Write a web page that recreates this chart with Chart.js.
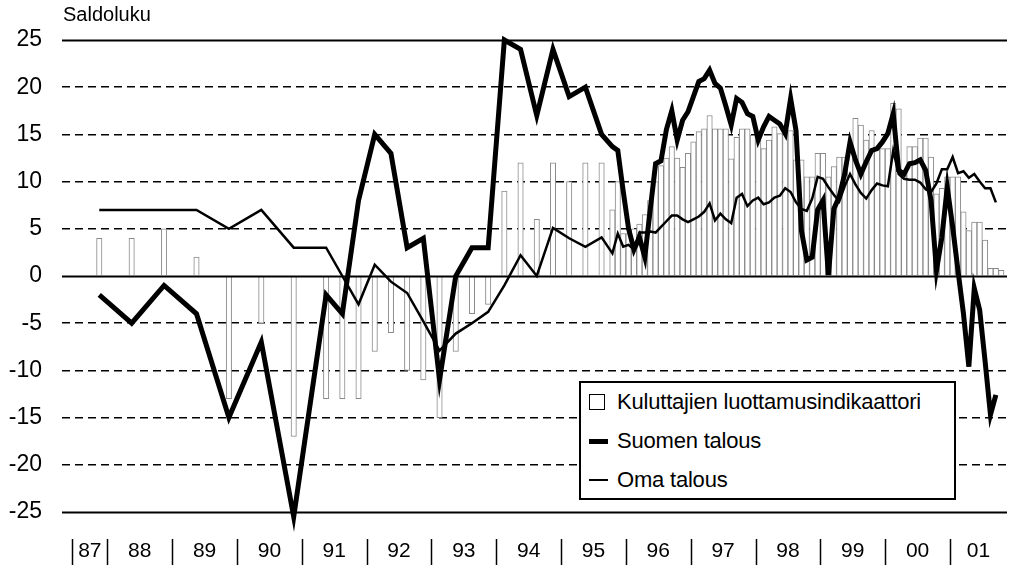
<!DOCTYPE html>
<html>
<head>
<meta charset="utf-8">
<script src="https://cdn.jsdelivr.net/npm/chart.js@4.4.0/dist/chart.umd.min.js"></script>
<style>
html, body { margin: 0; padding: 0; background: #fff; }
#wrap { position: relative; width: 1009px; height: 569px; }
#kuvio { position: absolute; left: 0; top: 0; }
#otsikko { position: absolute; left: 63px; top: 3px; font: 20px "Liberation Sans", Arial, sans-serif; color: #000; }
#selite { position: absolute; left: 579px; top: 381px; width: 373px; height: 115px; border: 2px solid #000; background: #fff;
          font: 22px "Liberation Sans", Arial, sans-serif; color: #000; }
#selite .rivi { position: absolute; left: 0; height: 30px; line-height: 30px; white-space: nowrap; }
#selite .merkki { position: absolute; left: 8px; }
#selite .teksti { position: absolute; left: 36px; top: 0; letter-spacing: -0.2px; }
</style>
</head>
<body>
<div id="wrap">
  <canvas id="kuvio" width="1009" height="569"></canvas>
  <div id="otsikko">Saldoluku</div>
  <div id="selite">
    <div class="rivi" style="top:4px"><div class="merkki" style="top:7px;width:14px;height:14px;border:1px solid #000;"></div><span class="teksti">Kuluttajien luottamusindikaattori</span></div>
    <div class="rivi" style="top:43px"><div class="merkki" style="top:13px;width:19px;height:5px;background:#000;"></div><span class="teksti">Suomen talous</span></div>
    <div class="rivi" style="top:82px"><div class="merkki" style="top:14px;width:19px;height:2px;background:#000;"></div><span class="teksti">Oma talous</span></div>
  </div>
</div>
<script>
// havaintokuukaudet (1987-1995 puolivuosittain/neljännesvuosittain, sen jälkeen kuukausittain)
var pvm = [
  '1987-11','1988-05','1988-11','1989-05','1989-11','1990-05','1990-11',
  '1991-05','1991-08','1991-11','1992-02','1992-05','1992-08','1992-11',
  '1993-02','1993-05','1993-08','1993-11','1994-02','1994-05','1994-08','1994-11',
  '1995-02','1995-05','1995-08','1995-10','1995-11','1995-12',
  '1996-01','1996-02','1996-03','1996-04','1996-05','1996-06','1996-07','1996-08','1996-09','1996-10','1996-11','1996-12',
  '1997-01','1997-02','1997-03','1997-04','1997-05','1997-06','1997-07','1997-08','1997-09','1997-10','1997-11','1997-12',
  '1998-01','1998-02','1998-03','1998-04','1998-05','1998-06','1998-07','1998-08','1998-09','1998-10','1998-11','1998-12',
  '1999-01','1999-02','1999-03','1999-04','1999-05','1999-06','1999-07','1999-08','1999-09','1999-10','1999-11','1999-12',
  '2000-01','2000-02','2000-03','2000-04','2000-05','2000-06','2000-07','2000-08','2000-09','2000-10','2000-11','2000-12',
  '2001-01','2001-02','2001-03','2001-04','2001-05','2001-06','2001-07','2001-08','2001-09','2001-10'
];

// Kuluttajien luottamusindikaattori (pylväät)
var luottamus = [
  4, 4, 5, 2, -13, -5, -17,
  -13, -13, -13, -8, -6, -10, -11,
  -15, -8, -4, -3, 9, 12, 6, 12,
  10, 12, 12, 7, 10, 4.5,
  4.5, 5, 5.5, 6.5, 8, 10, 11.7, 12.5, 13.7, 12.5, 11.5, 13,
  14.2, 15.3, 15.6, 17, 15.6, 15.6, 15.6, 12.4, 14.7, 15.6, 15.6, 14.9,
  14.4, 13.5, 14.4, 15.8, 15.1, 15.4, 15.4, 12.3, 12.3, 10.5, 10.5, 13,
  13, 10.5, 11.6, 12.6, 12.6, 13.9, 16.7, 16, 14.4, 15.4, 13.5, 13.5,
  13.5, 18.3, 17.7, 11.2, 13.7, 13.7, 14.6, 14.6, 12.6, 8.7, 9.3, 10.5,
  10.5, 10.5, 6.8, 4.8, 5.7, 5.7, 3.8, 0.8, 0.8, 0.6
];

// Suomen talous (paksu viiva)
var suomenTalous = [
  -2, -5, -1, -4, -15, -7, -25.5,
  -2, -4, 8, 15, 13, 3, 4,
  -11, 0, 3, 3, 25, 24, 17, 24,
  19, 20, 15, 13.7, 13.3, 9,
  5, 2.8, 4.1, 2, 7, 11.9, 12.2, 15.5, 17.5, 14.4, 16.5, 17.4,
  19, 20.6, 20.9, 21.8, 20.4, 19.9, 18, 16, 18.8, 18.4, 17.2, 16.9,
  14.4, 15.8, 16.9, 16.5, 16.1, 15.1, 18.8, 15.4, 4.8, 1.7, 2, 7,
  8, 0.1, 7.1, 8.4, 10.8, 14.2, 12.3, 10.8, 12.1, 13.3, 13.5, 14.2,
  15.1, 17.2, 11.2, 10.8, 11.9, 12, 12.3, 11.2, 8, 0.6, 4.1, 9.4,
  5.2, 0.5, -4, -9.6, -1.3, -3.6, -9, -14.7, -12.6, null
];

// Oma talous (ohut viiva)
var omaTalous = [
  7, 7, 7, 7, 5, 7, 3,
  3, 0, -3, 1.2, -0.6, -1.8, -4.8,
  -7.9, -6.1, -5, -3.8, -1, 2.2, 0, 5.1,
  4, 3.1, 4.1, 2.4, 4.5, 3.1,
  3.3, 2.8, 4.6, 4.6, 4.7, 4.6, 5.2, 5.8, 6.4, 6.4, 6, 5.7,
  6, 6.3, 6.8, 7.7, 5.9, 6.6, 6, 5.6, 8.3, 8.7, 7.4, 8,
  8.3, 7.6, 7.8, 8.3, 8.5, 9.3, 8.9, 7.8, 7.1, 6.9, 8.2, 10.5,
  10.3, 9.4, 8.6, 7.9, 9.5, 10.8, 9.7, 8.8, 8.2, 9.1, 9.8, 9.6,
  9.5, 13.3, 10.8, 10.3, 10.2, 10.2, 9.9, 9.2, 8.9, 9.8, 11.3, 11.3,
  12.6, 10.9, 11.1, 10.4, 10.8, 10, 9.3, 9.3, 7.8, null
];

// akselin tekstit
var vuodet = ['87','88','89','90','91','92','93','94','95','96','97','98','99','00','01'];
var yArvot = [25, 20, 15, 10, 5, 0, -5, -10, -15, -20, -25];

var X_MIN = 1987.30;
var X_MAX = 2001.88;
var X_ALKU = 1987.46;   // ensimmäinen väliviiva

// kuukausi -> vuosi desimaalina (kuukauden keskikohta)
function aika(s){
    var o = s.split('-');
    return Number(o[0]) + (Number(o[1]) - 0.5) / 12;
}

function pisteet(sarja){
    var tulos = [];
    for(var i=0; i<pvm.length; i++){
        tulos.push({x: aika(pvm[i]), y: sarja[i]});
    }
    return tulos;
}

// vuositekstien paikat: osittaisten vuosien keskelle
function vuosiKohdat(){
    var kohdat = [];
    for(var i=0; i<vuodet.length; i++){
        var alku = Math.max(X_ALKU, 1987 + i);
        var loppu = Math.min(X_MAX, 1988 + i);
        kohdat.push((alku + loppu) / 2);
    }
    return kohdat;
}

// kiinteät viivat (25, 0, -25) ja vuosien väliviivat
const apuviivat = {
    id: "apuviivat",
    afterDatasetsDraw: function(chart){
        const ctx = chart.ctx;
        const x = chart.scales.x, y = chart.scales.y;
        const a = chart.chartArea;
        ctx.save();
        ctx.strokeStyle = "#000";
        ctx.lineWidth = 2;
        [25, 0, -25].forEach(function(v){
            const py = Math.round(y.getPixelForValue(v)) + 0.5;
            ctx.beginPath();
            ctx.moveTo(a.left, py);
            ctx.lineTo(a.right, py);
            ctx.stroke();
        });
        ctx.lineWidth = 1.5;
        const rajat = [X_ALKU];
        for(var v=1988; v<=2001; v++) rajat.push(v);
        rajat.forEach(function(v){
            const px = Math.round(x.getPixelForValue(v)) + 0.5;
            ctx.beginPath();
            ctx.moveTo(px, a.bottom + 27);
            ctx.lineTo(px, a.bottom + 53);
            ctx.stroke();
        });
        ctx.restore();
    }
};

var xKohdat = vuosiKohdat();

new Chart(document.getElementById("kuvio").getContext("2d"), {
    type: "bar",
    data: {
        datasets: [
            {
                type: "line",
                label: "Suomen talous",
                data: pisteet(suomenTalous),
                borderColor: "#000",
                borderWidth: 5,
                pointRadius: 0,
                tension: 0,
                clip: false,
                order: 1
            },
            {
                type: "line",
                label: "Oma talous",
                data: pisteet(omaTalous),
                borderColor: "#000",
                borderWidth: 2.5,
                pointRadius: 0,
                tension: 0,
                clip: false,
                order: 2
            },
            {
                type: "bar",
                label: "Kuluttajien luottamusindikaattori",
                data: pisteet(luottamus),
                backgroundColor: "#fff",
                borderColor: "#8a8a8a",
                borderWidth: 1,
                barPercentage: 1,
                categoryPercentage: 1,
                order: 3
            }
        ]
    },
    options: {
        responsive: false,
        animation: false,
        layout: { autoPadding: false, padding: { top: 40, right: 2, left: 0, bottom: 0 } },
        plugins: {
            legend: { display: false },
            tooltip: { enabled: false }
        },
        scales: {
            x: {
                type: "linear",
                min: X_MIN,
                max: X_MAX,
                offset: false,
                grid: { display: false, drawTicks: false },
                border: { display: false },
                afterBuildTicks: function(scale){
                    scale.ticks = xKohdat.map(function(v){ return {value: v}; });
                },
                afterFit: function(scale){
                    scale.height = 57;
                    // tekstien väli ei saa kaventaa piirtoaluetta sivusuunnassa
                    scale.paddingLeft = 0;
                    scale.paddingRight = 0;
                },
                ticks: {
                    autoSkip: false,
                    maxRotation: 0,
                    padding: 27,
                    color: "#000",
                    font: { family: "'Liberation Sans', Arial", size: 21 },
                    callback: function(val, idx){ return vuodet[idx]; }
                }
            },
            y: {
                min: -25,
                max: 25,
                afterBuildTicks: function(scale){
                    scale.ticks = yArvot.map(function(v){ return {value: v}; });
                },
                afterFit: function(scale){
                    scale.width = 62;
                    scale.paddingTop = 0;
                    scale.paddingBottom = 0;
                },
                grid: {
                    drawTicks: false,
                    lineWidth: 1.5,
                    color: function(c){
                        var v = c.tick ? c.tick.value : null;
                        return (v === 25 || v === 0 || v === -25) ? "rgba(0,0,0,0)" : "#000";
                    }
                },
                border: { display: false, dash: [8, 5] },
                ticks: {
                    padding: 20,
                    color: "#000",
                    font: { family: "'Liberation Sans', Arial", size: 23 }
                }
            }
        }
    },
    plugins: [apuviivat]
});
</script>
</body>
</html>
